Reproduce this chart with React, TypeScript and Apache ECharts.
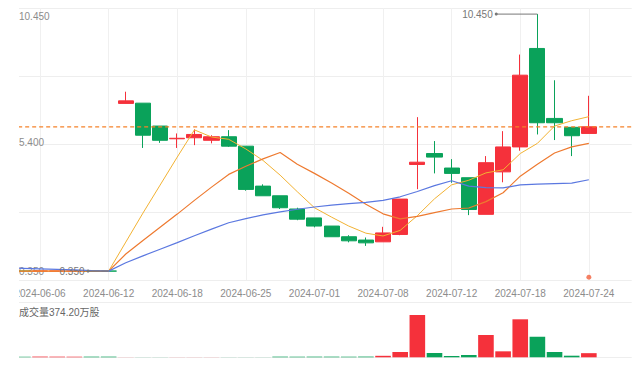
import React, { useEffect, useRef } from 'react';
import * as echarts from 'echarts';

// ---- data (prices in 元, volumes in 万股) ----
const dates = [
  '2024-06-04', '2024-06-05', '2024-06-06', '2024-06-07', '2024-06-10', '2024-06-11',
  '2024-06-12', '2024-06-13', '2024-06-14', '2024-06-17', '2024-06-18', '2024-06-19',
  '2024-06-20', '2024-06-21', '2024-06-25', '2024-06-26', '2024-06-27', '2024-06-28',
  '2024-07-01', '2024-07-02', '2024-07-03', '2024-07-04', '2024-07-08', '2024-07-09',
  '2024-07-10', '2024-07-11', '2024-07-12', '2024-07-15', '2024-07-16', '2024-07-17',
  '2024-07-18', '2024-07-19', '2024-07-22', '2024-07-23', '2024-07-24', '2024-07-25',
  '2024-07-26',
];
const opens = [
  0.35, 0.351, 0.35, 0.35, 0.35, 0.351, 0.351, 6.94, 6.95, 6.05, 5.55, 5.59,
  5.49, 5.63, 5.26, 3.69, 3.31, 2.79, 2.44, 2.12, 1.70, 1.57, 1.50, 1.79,
  4.54, 4.97, 4.40, 4.02, 2.58, 4.25, 5.23, 9.10, 6.35, 6.00, 5.76,
];
const closes = [
  0.351, 0.35, 0.351, 0.351, 0.351, 0.35, 0.35, 7.04, 5.69, 5.49, 5.57, 5.72,
  5.63, 5.26, 3.56, 3.31, 2.84, 2.39, 2.12, 1.70, 1.54, 1.46, 1.85, 3.18,
  4.63, 4.83, 4.19, 2.77, 4.61, 5.23, 8.05, 6.18, 6.18, 5.67, 6.02,
];
const lows = [
  0.35, 0.35, 0.35, 0.35, 0.35, 0.35, 0.35, 6.94, 5.19, 5.39, 5.19, 5.30,
  5.37, 5.23, 3.51, 3.31, 2.79, 2.35, 2.07, 1.70, 1.48, 1.34, 1.50, 1.76,
  3.57, 4.19, 3.82, 2.55, 2.58, 3.84, 5.08, 5.72, 5.50, 4.87, 5.76,
];
const highs = [
  0.351, 0.351, 0.351, 0.351, 0.351, 0.351, 0.351, 7.40, 6.95, 6.05, 5.76, 5.92,
  5.69, 5.89, 5.26, 3.76, 3.31, 2.84, 2.44, 2.12, 1.76, 1.67, 2.09, 3.18,
  6.40, 5.46, 4.75, 4.02, 4.87, 5.85, 8.86, 10.45, 7.85, 6.00, 7.24,
];
const volumes = [
  60, 60, 65, 60, 55, 60, 60, 8, 8, 8, 8, 8,
  8, 8, 8, 8, 60, 55, 60, 60, 55, 65, 135, 480,
  3825, 390, 120, 210, 2015, 540, 3435, 1860, 480, 145, 374.2,
];
const ma5 = [
  0.35, 0.35, 0.35, 0.35, 0.35, 0.35, 0.35, 1.49, 2.63, 3.73, 4.83, 5.90,
  5.62, 5.53, 5.15, 4.70, 4.12, 3.47, 2.84, 2.47, 2.12, 1.84, 1.73, 1.95,
  2.53, 3.19, 3.74, 3.92, 4.21, 4.33, 4.97, 5.37, 6.05, 6.26, 6.42,
];
const ma10 = [
  0.35, 0.35, 0.35, 0.35, 0.35, 0.35, 0.35, 1.02, 1.55, 2.07, 2.59, 3.13,
  3.65, 4.15, 4.47, 4.76, 5.01, 4.55, 4.19, 3.81, 3.41, 2.98, 2.60, 2.40,
  2.50, 2.65, 2.79, 2.83, 3.08, 3.43, 4.08, 4.55, 4.99, 5.23, 5.37,
];
const ma20 = [
  0.48, 0.46, 0.44, 0.42, 0.40, 0.37, 0.35, 0.68, 0.95, 1.21, 1.47, 1.74,
  2.00, 2.25, 2.41, 2.56, 2.68, 2.78, 2.87, 2.94, 3.00, 3.05, 3.13, 3.27,
  3.48, 3.71, 3.90, 3.69, 3.63, 3.62, 3.74, 3.77, 3.79, 3.81, 3.94,
];
const eventMarks = [[34, 0.11]];

const RED = '#f5313b';
const GREEN = '#0aa25a';
const DASH = '#f5822a';
const FONT = '"Liberation Sans", Arial, "Noto Sans CJK SC", sans-serif';

export default function App() {
  const ref = useRef<HTMLDivElement>(null);

  useEffect(() => {
    const el = ref.current;
    if (!el) return;
    const chart = echarts.init(el, null, { renderer: 'svg' });

    const N = dates.length;
    const PLOT_LEFT = -21.83;
    const PLOT_WIDTH = 634.55;

    const lo = Math.min(...lows);
    const hi = Math.max(...highs);
    const mid = (lo + hi) / 2;
    const maxK = highs.indexOf(hi);
    let minK = 0;
    lows.forEach((v, k) => { if (v <= lows[minK]) minK = k; });
    const lastClose = closes[closes.length - 1];
    const lastVol = volumes[volumes.length - 1];

    const candle = dates.map((_, k) =>
      k < opens.length ? [opens[k], closes[k], lows[k], highs[k]] : '-'
    );
    const volData = volumes.map((v, k) => ({
      value: v,
      itemStyle: { color: closes[k] >= opens[k] ? RED : GREEN },
    }));
    const labelEvery = (k: number) => (k - 2) % 4 === 0;

    const option: any = {
      animation: false,
      textStyle: { fontFamily: FONT },
      grid: [
        { left: PLOT_LEFT, width: PLOT_WIDTH, top: 8, height: 272, containLabel: false, outerBoundsMode: 'none' },
        { left: PLOT_LEFT, width: PLOT_WIDTH, top: 302, height: 55.3, containLabel: false, outerBoundsMode: 'none' },
      ],
      xAxis: [
        {
          type: 'category', data: dates, gridIndex: 0, boundaryGap: true,
          axisLine: { show: false }, axisTick: { show: false },
          axisLabel: { interval: labelEvery, color: '#8c8c8c', fontSize: 10, margin: 8, fontFamily: FONT },
          splitLine: { show: true, interval: labelEvery, alignWithLabel: true, lineStyle: { color: '#f0f0f0', width: 1 } },
        },
        {
          type: 'category', data: dates, gridIndex: 1, boundaryGap: true,
          axisLine: { show: false }, axisTick: { show: false },
          axisLabel: { show: false }, splitLine: { show: false },
        },
        { type: 'value', gridIndex: 0, min: -0.5, max: N - 0.5, show: false },
      ],
      yAxis: [
        {
          type: 'value', gridIndex: 0, min: 0, max: 10.69, interval: 2.6725,
          offset: PLOT_LEFT,
          axisLine: { show: false }, axisTick: { show: false },
          axisLabel: {
            inside: true, margin: 0, customValues: [lo, mid, hi],
            color: '#8c8c8c', fontSize: 10, fontFamily: FONT,
            formatter: (v: number) => (Math.abs(v - hi) < 1e-6 ? `{t|${v.toFixed(3)}}` : v.toFixed(3)),
            rich: { t: { padding: [5, 0, 0, 0], color: '#8c8c8c', fontSize: 10, fontFamily: FONT } },
          },
          splitLine: { show: true, lineStyle: { color: '#eeeeee', width: 1 } },
        },
        {
          type: 'value', gridIndex: 1, min: 0, max: 5000, interval: 5000,
          axisLine: { show: false }, axisTick: { show: false }, axisLabel: { show: false },
          splitLine: { show: true, lineStyle: { color: '#eeeeee', width: 1 } },
        },
      ],
      graphic: [
        {
          type: 'text', x: 0, y: 312.7,
          style: {
            text: `成交量${lastVol.toFixed(2)}万股`, fill: '#666666', fontSize: 10,
            fontFamily: FONT, verticalAlign: 'middle', align: 'left',
          },
        },
      ],
      series: [
        {
          name: 'K', type: 'candlestick', xAxisIndex: 0, yAxisIndex: 0, data: candle,
          barWidth: '91%',
          itemStyle: { color: RED, color0: GREEN, borderColor: RED, borderColor0: GREEN, borderWidth: 1 },
        },
        {
          name: 'last', type: 'line', xAxisIndex: 2, yAxisIndex: 0, z: 3,
          symbol: 'none', silent: true,
          lineStyle: { color: DASH, type: [4, 3], width: 1.2 },
          data: [[-0.5, lastClose], [N - 0.5, lastClose]],
        },
        {
          name: 'MA5', type: 'line', data: ma5, xAxisIndex: 0, yAxisIndex: 0,
          showSymbol: false, lineStyle: { color: '#f2b233', width: 1 }, itemStyle: { color: '#f2b233' },
        },
        {
          name: 'MA10', type: 'line', data: ma10, xAxisIndex: 0, yAxisIndex: 0,
          showSymbol: false, lineStyle: { color: '#ee7a30', width: 1.2 }, itemStyle: { color: '#ee7a30' },
        },
        {
          name: 'MA20', type: 'line', data: ma20, xAxisIndex: 0, yAxisIndex: 0,
          showSymbol: false, lineStyle: { color: '#5b78e0', width: 1.2 }, itemStyle: { color: '#5b78e0' },
        },
        {
          name: 'max', type: 'line', xAxisIndex: 2, yAxisIndex: 0, symbol: 'none', z: 5,
          lineStyle: { color: '#777777', width: 1 }, itemStyle: { color: '#777777' },
          data: [
            {
              value: [maxK - 2.4, hi], symbol: 'circle', symbolSize: 3,
              label: { show: true, position: 'left', distance: 2, formatter: hi.toFixed(3), color: '#777777', fontSize: 10, fontFamily: FONT },
            },
            { value: [maxK, hi] },
          ],
        },
        {
          name: 'min', type: 'line', xAxisIndex: 2, yAxisIndex: 0, symbol: 'none', z: 5,
          lineStyle: { color: '#777777', width: 1 }, itemStyle: { color: '#777777' },
          data: [
            {
              value: [minK - 1.2, lo], symbol: 'circle', symbolSize: 3,
              label: { show: true, position: 'left', distance: 2, formatter: lo.toFixed(3), color: '#777777', fontSize: 10, fontFamily: FONT },
            },
            { value: [minK, lo] },
          ],
        },
        {
          name: 'event', type: 'scatter', xAxisIndex: 0, yAxisIndex: 0, data: eventMarks,
          symbolSize: 5, itemStyle: { color: '#f2603c' },
        },
        {
          name: 'VOL', type: 'bar', xAxisIndex: 1, yAxisIndex: 1, data: volData, barWidth: '91%',
        },
      ],
    };

    chart.setOption(option);
    return () => chart.dispose();
  }, []);

  return (
    <div style={{ position: 'absolute', left: 19, top: 0, width: 621, height: 365, overflow: 'hidden' }}>
      <div ref={ref} style={{ width: 621, height: 365 }} />
    </div>
  );
}
